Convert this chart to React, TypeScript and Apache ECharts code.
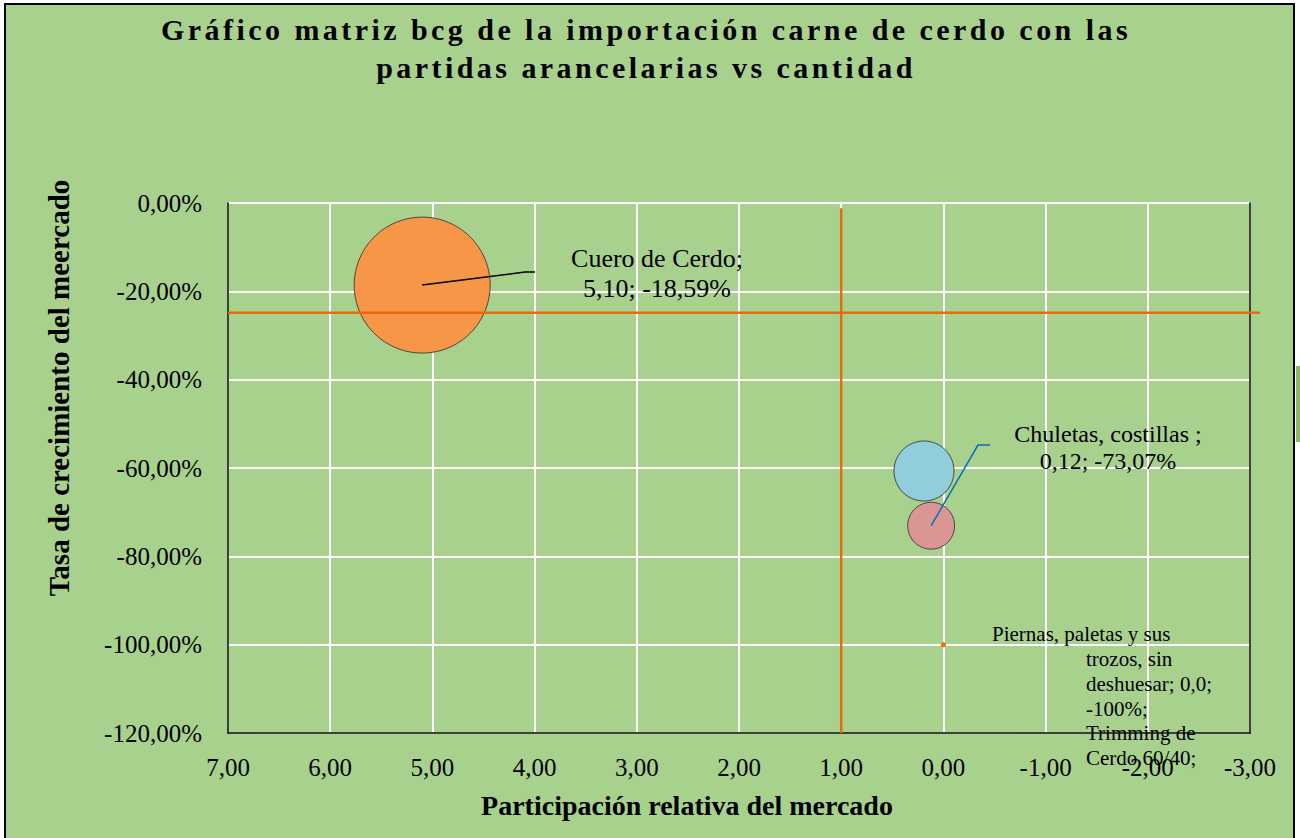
import React, { useEffect, useRef } from "react";
import * as echarts from "echarts";

// ---- Data ----
const productos = [
  "Cuero de Cerdo",
  "Trimming de Cerdo 60/40",
  "Chuletas, costillas ",
  "Piernas, paletas y sus trozos, sin deshuesar",
];
const participacionRelativa = [5.1, 0.19, 0.12, 0.0];
const tasaCrecimiento = [-18.59, -60.68, -73.07, -100];
const cantidadRelativa = [100, 19.5, 11.9, 0.15];
const colores = ["#f79646", "#92cddc", "#da9694", "#fa6a14"];

const xMin = -3;
const xMax = 7;
const yMin = -120;
const yMax = 0;

const promedioCrecimiento = -24.84;
const divisionParticipacion = 1.0;

const tituloLineas = [
  "Gráfico matriz bcg de la importación carne de cerdo con las",
  "partidas arancelarias vs cantidad",
];
const nombreEjeX = "Participación relativa del mercado";
const nombreEjeY = "Tasa de crecimiento del meercado";
const etiquetaPiernasPrimera = "Piernas, paletas y sus";
const etiquetaPiernasResto = ["trozos, sin", "deshuesar; 0,0;", "-100%;", "Trimming de", "Cerdo 60/40;"];

const FONT = "'Liberation Serif', 'Times New Roman', serif";
const fmt = (v: number) => v.toFixed(2).replace(".", ",");

export default function App() {
  const ref = useRef<HTMLDivElement>(null);

  useEffect(() => {
    if (!ref.current) return;
    const chart = echarts.init(ref.current, undefined, { renderer: "svg" });

    const scatterData = productos.map((p, i) => ({
      name: p,
      value: [participacionRelativa[i], tasaCrecimiento[i], cantidadRelativa[i]],
      itemStyle: {
        color: colores[i],
        opacity: 1,
        borderColor: i === 3 ? "transparent" : "#2b2b2b",
        borderWidth: i === 3 ? 0 : 0.8,
      },
    }));

    const option: any = {
      animation: false,
      backgroundColor: "#ffffff",
      title: {
        text: tituloLineas.join("\n"),
        left: 646,
        top: 10,
        textAlign: "center",
        padding: 0,
        textStyle: {
          fontFamily: FONT,
          fontWeight: "bold",
          fontSize: 30,
          lineHeight: 38,
          color: "#000",
        },
      },
      grid: { left: 228, right: 50, top: 203, bottom: 105, containLabel: false },
      xAxis: {
        type: "value",
        inverse: true,
        min: xMin,
        max: xMax,
        interval: 1,
        name: nombreEjeX,
        nameLocation: "middle",
        nameGap: 58,
        nameTextStyle: {
          fontFamily: FONT,
          fontWeight: "bold",
          fontSize: 28,
          color: "#000",
          padding: [0, 104, 0, 0],
        },
        axisLine: { show: true, onZero: false, lineStyle: { color: "#000", width: 1.5 } },
        axisTick: { show: false },
        axisLabel: {
          margin: 22,
          fontFamily: FONT,
          fontSize: 25,
          color: "#000",
          formatter: (v: number) => fmt(v),
        },
        splitLine: { show: true, lineStyle: { color: "#ffffff", width: 2 } },
      },
      yAxis: [
        {
          type: "value",
          min: yMin,
          max: yMax,
          interval: 20,
          name: nombreEjeY,
          nameLocation: "middle",
          nameGap: 155,
          nameTextStyle: {
            fontFamily: FONT,
            fontWeight: "bold",
            fontSize: 29,
            color: "#000",
            padding: [0, 0, 0, 160],
          },
          axisLine: { show: true, onZero: false, lineStyle: { color: "#000", width: 1.5 } },
          axisTick: { show: false },
          axisLabel: {
            margin: 26,
            fontFamily: FONT,
            fontSize: 25,
            color: "#000",
            formatter: (v: number) => fmt(v) + "%",
          },
          splitLine: { show: true, lineStyle: { color: "#ffffff", width: 2 } },
        },
        {
          type: "value",
          min: yMin,
          max: yMax,
          interval: 20,
          position: "right",
          axisLine: { show: true, onZero: false, lineStyle: { color: "#000", width: 1.5 } },
          axisTick: { show: false },
          axisLabel: { show: false },
          splitLine: { show: false },
        },
      ],
      series: [
        {
          type: "line",
          name: "promedio crecimiento",
          data: [
            [xMax, promedioCrecimiento],
            [xMin, promedioCrecimiento],
          ],
          clip: false,
          symbol: "none",
          lineStyle: { color: "#e46c0a", width: 2.5 },
          z: 3,
          silent: true,
        },
        {
          type: "line",
          name: "división participación",
          data: [
            [divisionParticipacion, -1.2],
            [divisionParticipacion, yMin],
          ],
          clip: false,
          symbol: "none",
          lineStyle: { color: "#e46c0a", width: 2.5 },
          z: 3,
          silent: true,
        },
        {
          type: "scatter",
          name: "productos",
          data: scatterData,
          symbolSize: (val: number[]) => Math.sqrt(val[2]) * 13.6,
          z: 2,
        },
      ],
    };

    chart.setOption(option);

    const px = (x: number, y: number) =>
      chart.convertToPixel({ gridIndex: 0 }, [x, y]) as number[];
    const p0 = px(participacionRelativa[0], tasaCrecimiento[0]);
    const p2 = px(participacionRelativa[2], tasaCrecimiento[2]);
    const hEnd = px(xMin, promedioCrecimiento);

    const labelCuero = `${productos[0]};\n${fmt(participacionRelativa[0])}; ${fmt(tasaCrecimiento[0])}%`;
    const labelChuletas = `${productos[2]};\n${fmt(participacionRelativa[2])}; ${fmt(tasaCrecimiento[2])}%`;

    chart.setOption({
      graphic: [
        {
          type: "rect",
          z: -10,
          silent: true,
          shape: { x: 5, y: 4, width: 1289, height: 842 },
          style: { fill: "#a9d18e", stroke: "#000", lineWidth: 2 },
        },
        {
          type: "rect",
          z: -10,
          silent: true,
          shape: { x: 1296, y: 366, width: 6, height: 76 },
          style: { fill: "#8fb662" },
        },
        {
          type: "line",
          z: 10,
          silent: true,
          shape: { x1: hEnd[0] - 2, y1: hEnd[1], x2: hEnd[0] + 10, y2: hEnd[1] },
          style: { stroke: "#e46c0a", lineWidth: 2.5 },
        },
        {
          type: "polyline",
          z: 10,
          silent: true,
          shape: { points: [[p0[0], p0[1]], [525, 272], [535, 272]] },
          style: { stroke: "#000", lineWidth: 1.5, fill: "none" },
        },
        {
          type: "text",
          z: 10,
          silent: true,
          x: 657,
          y: 273,
          style: {
            text: labelCuero,
            fontFamily: FONT,
            fontSize: 26,
            lineHeight: 30,
            fill: "#000",
            align: "center",
            verticalAlign: "middle",
          },
        },
        {
          type: "polyline",
          z: 10,
          silent: true,
          shape: { points: [[p2[0], p2[1]], [978, 445], [990, 445]] },
          style: { stroke: "#0070c0", lineWidth: 1.5, fill: "none" },
        },
        {
          type: "text",
          z: 10,
          silent: true,
          x: 1108,
          y: 447,
          style: {
            text: labelChuletas,
            fontFamily: FONT,
            fontSize: 24,
            lineHeight: 27,
            fill: "#000",
            align: "center",
            verticalAlign: "middle",
          },
        },
        {
          type: "text",
          z: 10,
          silent: true,
          x: 992,
          y: 634,
          style: {
            text: etiquetaPiernasPrimera,
            fontFamily: FONT,
            fontSize: 21,
            fill: "#000",
            align: "left",
            verticalAlign: "middle",
          },
        },
        {
          type: "text",
          z: 10,
          silent: true,
          x: 1086,
          y: 647,
          style: {
            text: etiquetaPiernasResto.join("\n"),
            fontFamily: FONT,
            fontSize: 21,
            lineHeight: 24.6,
            fill: "#000",
            align: "left",
            verticalAlign: "top",
          },
        },
      ],
    });

    // letter spacing for the title, as in the reference
    const texts = ref.current.querySelectorAll("text");
    texts.forEach((t: any) => {
      if (tituloLineas.includes(t.textContent || "")) {
        t.setAttribute("letter-spacing", "3.45");
      }
    });

    return () => {
      chart.dispose();
    };
  }, []);

  return (
    <div
      ref={ref}
      style={{ position: "absolute", left: 0, top: 0, width: 1300, height: 838 }}
    />
  );
}
